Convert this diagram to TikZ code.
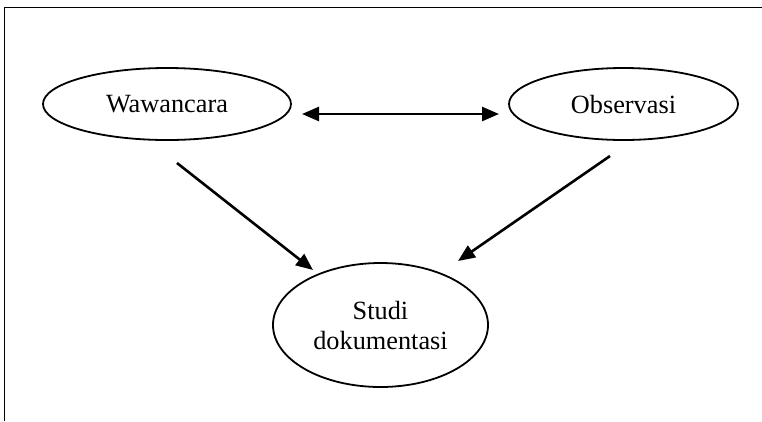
\documentclass[tikz,border=0pt]{standalone}
\usepackage{fontspec}
\setmainfont{Liberation Serif}
\usetikzlibrary{arrows.meta,shapes.geometric}
\begin{document}
\begin{tikzpicture}[x=1pt,y=-1pt,
  oval/.style={draw,line width=1.8pt,ellipse,inner sep=0pt,align=center,
    font=\fontsize{26.3}{30}\selectfont},
  tip/.style={Triangle[length=17pt,width=14pt]},
  conn/.style={line width=2.6pt,-{Triangle[length=17pt,width=14pt]}},
  frame/.style={line width=1.6pt}]
\useasboundingbox (0,0) rectangle (762,421);
\draw[frame] (4.5,421) -- (4.5,7.5) -- (762,7.5);
\node[oval,minimum width=248pt,minimum height=72pt] (w) at (167,104) {Wawancara};
\node[oval,minimum width=229pt,minimum height=72pt] (o) at (623.5,104) {Observasi};
\node[oval,minimum width=215pt,minimum height=124pt] (s) at (380.5,325) {Studi\\dokumentasi};
\coordinate (a1) at (302,114);
\coordinate (a2) at (499,114);
\coordinate (b1) at (177,163);
\coordinate (b2) at (313,270);
\coordinate (c1) at (610,156);
\coordinate (c2) at (458,261);
\draw[line width=2.6pt,{Triangle[length=17pt,width=14pt]}-{Triangle[length=17pt,width=14pt]}] (a1) -- (a2);
\draw[conn] (b1) -- (b2);
\draw[conn] (c1) -- (c2);
\end{tikzpicture}
\end{document}
